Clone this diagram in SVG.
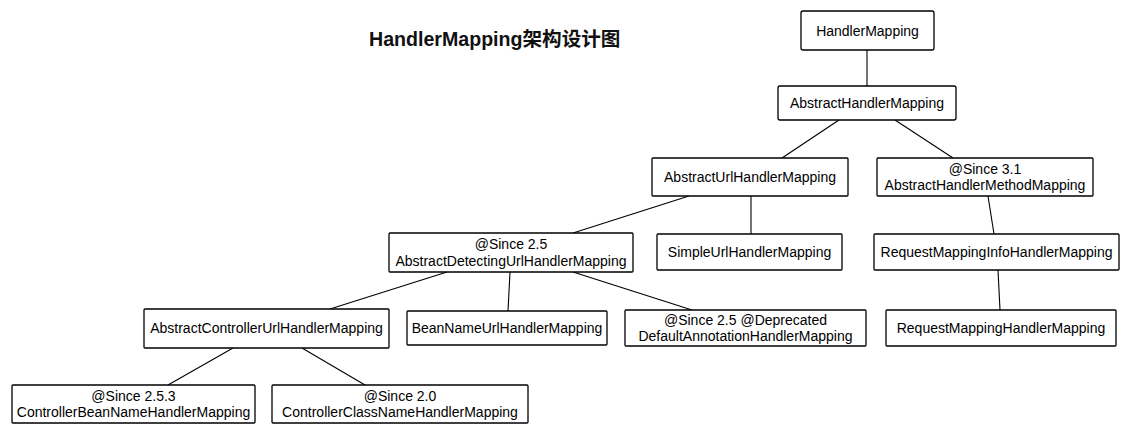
<svg xmlns="http://www.w3.org/2000/svg" width="1131" height="435" viewBox="0 0 1131 435">
<style>
.box{fill:#fff;stroke:#000;stroke-width:1.3}
.t{font-family:"Liberation Sans",Arial,sans-serif;font-size:14px;fill:#000;text-anchor:middle}
.title{font-family:"Liberation Sans","Noto Sans CJK SC",sans-serif;font-size:19.6px;font-weight:bold;fill:#111}
.c line{stroke:#000;stroke-width:1.1}
</style>
<rect width="1131" height="435" fill="#fff"/>
<text class="title" x="369" y="46">HandlerMapping架构设计图</text>
<g class="c" id="connectors">
<line x1="867" y1="50" x2="867" y2="86"/>
<line x1="839" y1="120" x2="782" y2="158"/>
<line x1="895" y1="120" x2="953" y2="158"/>
<line x1="689" y1="196" x2="573" y2="233"/>
<line x1="751" y1="196" x2="751" y2="234"/>
<line x1="988" y1="196" x2="994" y2="234"/>
<line x1="447" y1="272" x2="330" y2="309"/>
<line x1="510" y1="272" x2="508" y2="311"/>
<line x1="573" y1="272" x2="692" y2="310"/>
<line x1="998" y1="270" x2="1000" y2="310"/>
<line x1="233" y1="348" x2="168" y2="385"/>
<line x1="302" y1="348" x2="365" y2="385"/>
</g>
<g id="n-handlermapping"><rect class="box" x="801" y="11" width="133" height="39" rx="2"/><text class="t" x="867.5" y="35.5">HandlerMapping</text></g>
<g id="n-abstracthandlermapping"><rect class="box" x="778" y="86" width="178" height="34" rx="2"/><text class="t" x="867" y="108">AbstractHandlerMapping</text></g>
<g id="n-abstracturlhandlermapping"><rect class="box" x="652" y="158" width="196" height="38" rx="1"/><text class="t" x="750" y="182">AbstractUrlHandlerMapping</text></g>
<g id="n-abstracthandlermethodmapping"><rect class="box" x="877" y="158" width="216" height="38" rx="1"/><text class="t" x="985" y="174">@Since 3.1</text><text class="t" x="985" y="190">AbstractHandlerMethodMapping</text></g>
<g id="n-abstractdetectingurlhandlermapping"><rect class="box" x="389" y="233" width="244" height="39" rx="1"/><text class="t" x="511" y="249">@Since 2.5</text><text class="t" x="511" y="266">AbstractDetectingUrlHandlerMapping</text></g>
<g id="n-simpleurlhandlermapping"><rect class="box" x="657" y="234" width="185" height="36" rx="1"/><text class="t" x="749.5" y="257">SimpleUrlHandlerMapping</text></g>
<g id="n-requestmappinginfohandlermapping"><rect class="box" x="874" y="234" width="245" height="36" rx="1"/><text class="t" x="996.5" y="257">RequestMappingInfoHandlerMapping</text></g>
<g id="n-abstractcontrollerurlhandlermapping"><rect class="box" x="144" y="309" width="245" height="39" rx="1"/><text class="t" x="266.5" y="333">AbstractControllerUrlHandlerMapping</text></g>
<g id="n-beannameurlhandlermapping"><rect class="box" x="407" y="311" width="200" height="34" rx="1"/><text class="t" x="507" y="333">BeanNameUrlHandlerMapping</text></g>
<g id="n-defaultannotationhandlermapping"><rect class="box" x="625" y="310" width="241" height="36" rx="1"/><text class="t" x="745.5" y="325">@Since 2.5 @Deprecated</text><text class="t" x="745.5" y="341">DefaultAnnotationHandlerMapping</text></g>
<g id="n-requestmappinghandlermapping"><rect class="box" x="886" y="310" width="230" height="36" rx="1"/><text class="t" x="1001" y="333">RequestMappingHandlerMapping</text></g>
<g id="n-controllerbeannamehandlermapping"><rect class="box" x="12" y="385" width="243" height="38" rx="1"/><text class="t" x="133.5" y="401">@Since 2.5.3</text><text class="t" x="133.5" y="417">ControllerBeanNameHandlerMapping</text></g>
<g id="n-controllerclassnamehandlermapping"><rect class="box" x="272" y="385" width="256" height="38" rx="1"/><text class="t" x="400" y="401">@Since 2.0</text><text class="t" x="400" y="417">ControllerClassNameHandlerMapping</text></g>
</svg>
